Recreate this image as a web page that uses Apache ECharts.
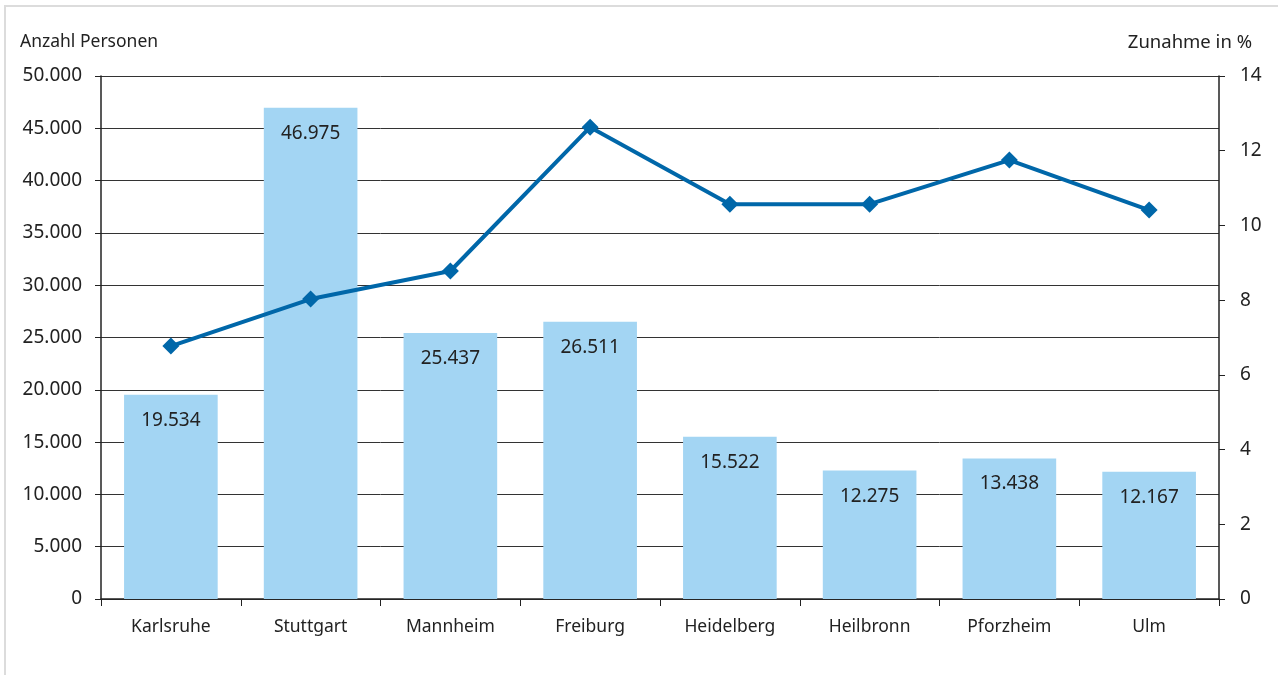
<!DOCTYPE html>
<html>
<head>
<meta charset="utf-8">
<script src="https://cdn.jsdelivr.net/npm/echarts@6/dist/echarts.min.js"></script>
<style>
  html, body { margin: 0; padding: 0; background: #fff; }
  #frame { position: absolute; left: 4px; top: 5px; width: 1280px; height: 700px; border: 2px solid #dcdcdc; box-sizing: border-box; }
  #main { position: absolute; left: 0; top: 0; width: 1278px; height: 675px; }
</style>
</head>
<body>
<div id="frame"></div>
<div id="main"></div>
<script>
// Städte (Kategorien)
const cities = ['Karlsruhe', 'Stuttgart', 'Mannheim', 'Freiburg', 'Heidelberg', 'Heilbronn', 'Pforzheim', 'Ulm']
// Anzahl Personen (Balken)
const persons = [19534, 46975, 25437, 26511, 15522, 12275, 13438, 12167]
// Zunahme in % (Linie)
const increase = [6.77, 8.03, 8.78, 12.63, 10.57, 10.57, 11.75, 10.41]

const font = 'Noto Sans'
const dots = n => String(n).replace(/\B(?=(\d{3})+(?!\d))/g, '.')

const chart = echarts.init(document.getElementById('main'))
chart.setOption({
  animation: false,
  textStyle: { fontFamily: font },
  grid: { left: 101, right: 59, top: 76, bottom: 76 },
  graphic: [
    { type: 'text', left: 20, top: 33, style: { text: 'Anzahl Personen', font: '17.5px "Noto Sans"', fill: '#222' } },
    { type: 'text', right: 26, top: 33, style: { text: 'Zunahme in %', font: '18.5px "Noto Sans"', fill: '#222' } }
  ],
  xAxis: {
    type: 'category',
    data: cities,
    axisLine: { lineStyle: { color: '#222', width: 1.5 } },
    axisTick: { show: true, length: 7, lineStyle: { color: '#222' } },
    axisLabel: { color: '#222', fontSize: 17.5, margin: 19 }
  },
  yAxis: [
    {
      type: 'value', min: 0, max: 50000, interval: 5000,
      axisLine: { show: true, lineStyle: { color: '#222', width: 1.5 } },
      axisTick: { show: true, length: 6, lineStyle: { color: '#222' } },
      axisLabel: { color: '#222', fontSize: 19, margin: 19, formatter: v => dots(v) },
      splitLine: { lineStyle: { color: '#333', width: 1 } }
    },
    {
      type: 'value', min: 0, max: 14, interval: 2,
      axisLine: { show: true, lineStyle: { color: '#222', width: 1.5 } },
      axisTick: { show: true, length: 6, lineStyle: { color: '#222' } },
      axisLabel: { color: '#222', fontSize: 19, margin: 21 },
      splitLine: { show: false }
    }
  ],
  series: [
    {
      name: 'Anzahl Personen',
      type: 'bar',
      data: persons,
      barWidth: '67%',
      itemStyle: { color: '#a3d5f3' },
      label: {
        show: true, position: 'insideTop', distance: 16,
        color: '#222', fontSize: 19, formatter: p => dots(p.value)
      }
    },
    {
      name: 'Zunahme in %',
      type: 'line',
      yAxisIndex: 1,
      data: increase,
      symbol: 'diamond',
      symbolSize: 17,
      lineStyle: { color: '#0067a9', width: 4 },
      itemStyle: { color: '#0067a9' }
    }
  ]
})
</script>
</body>
</html>
